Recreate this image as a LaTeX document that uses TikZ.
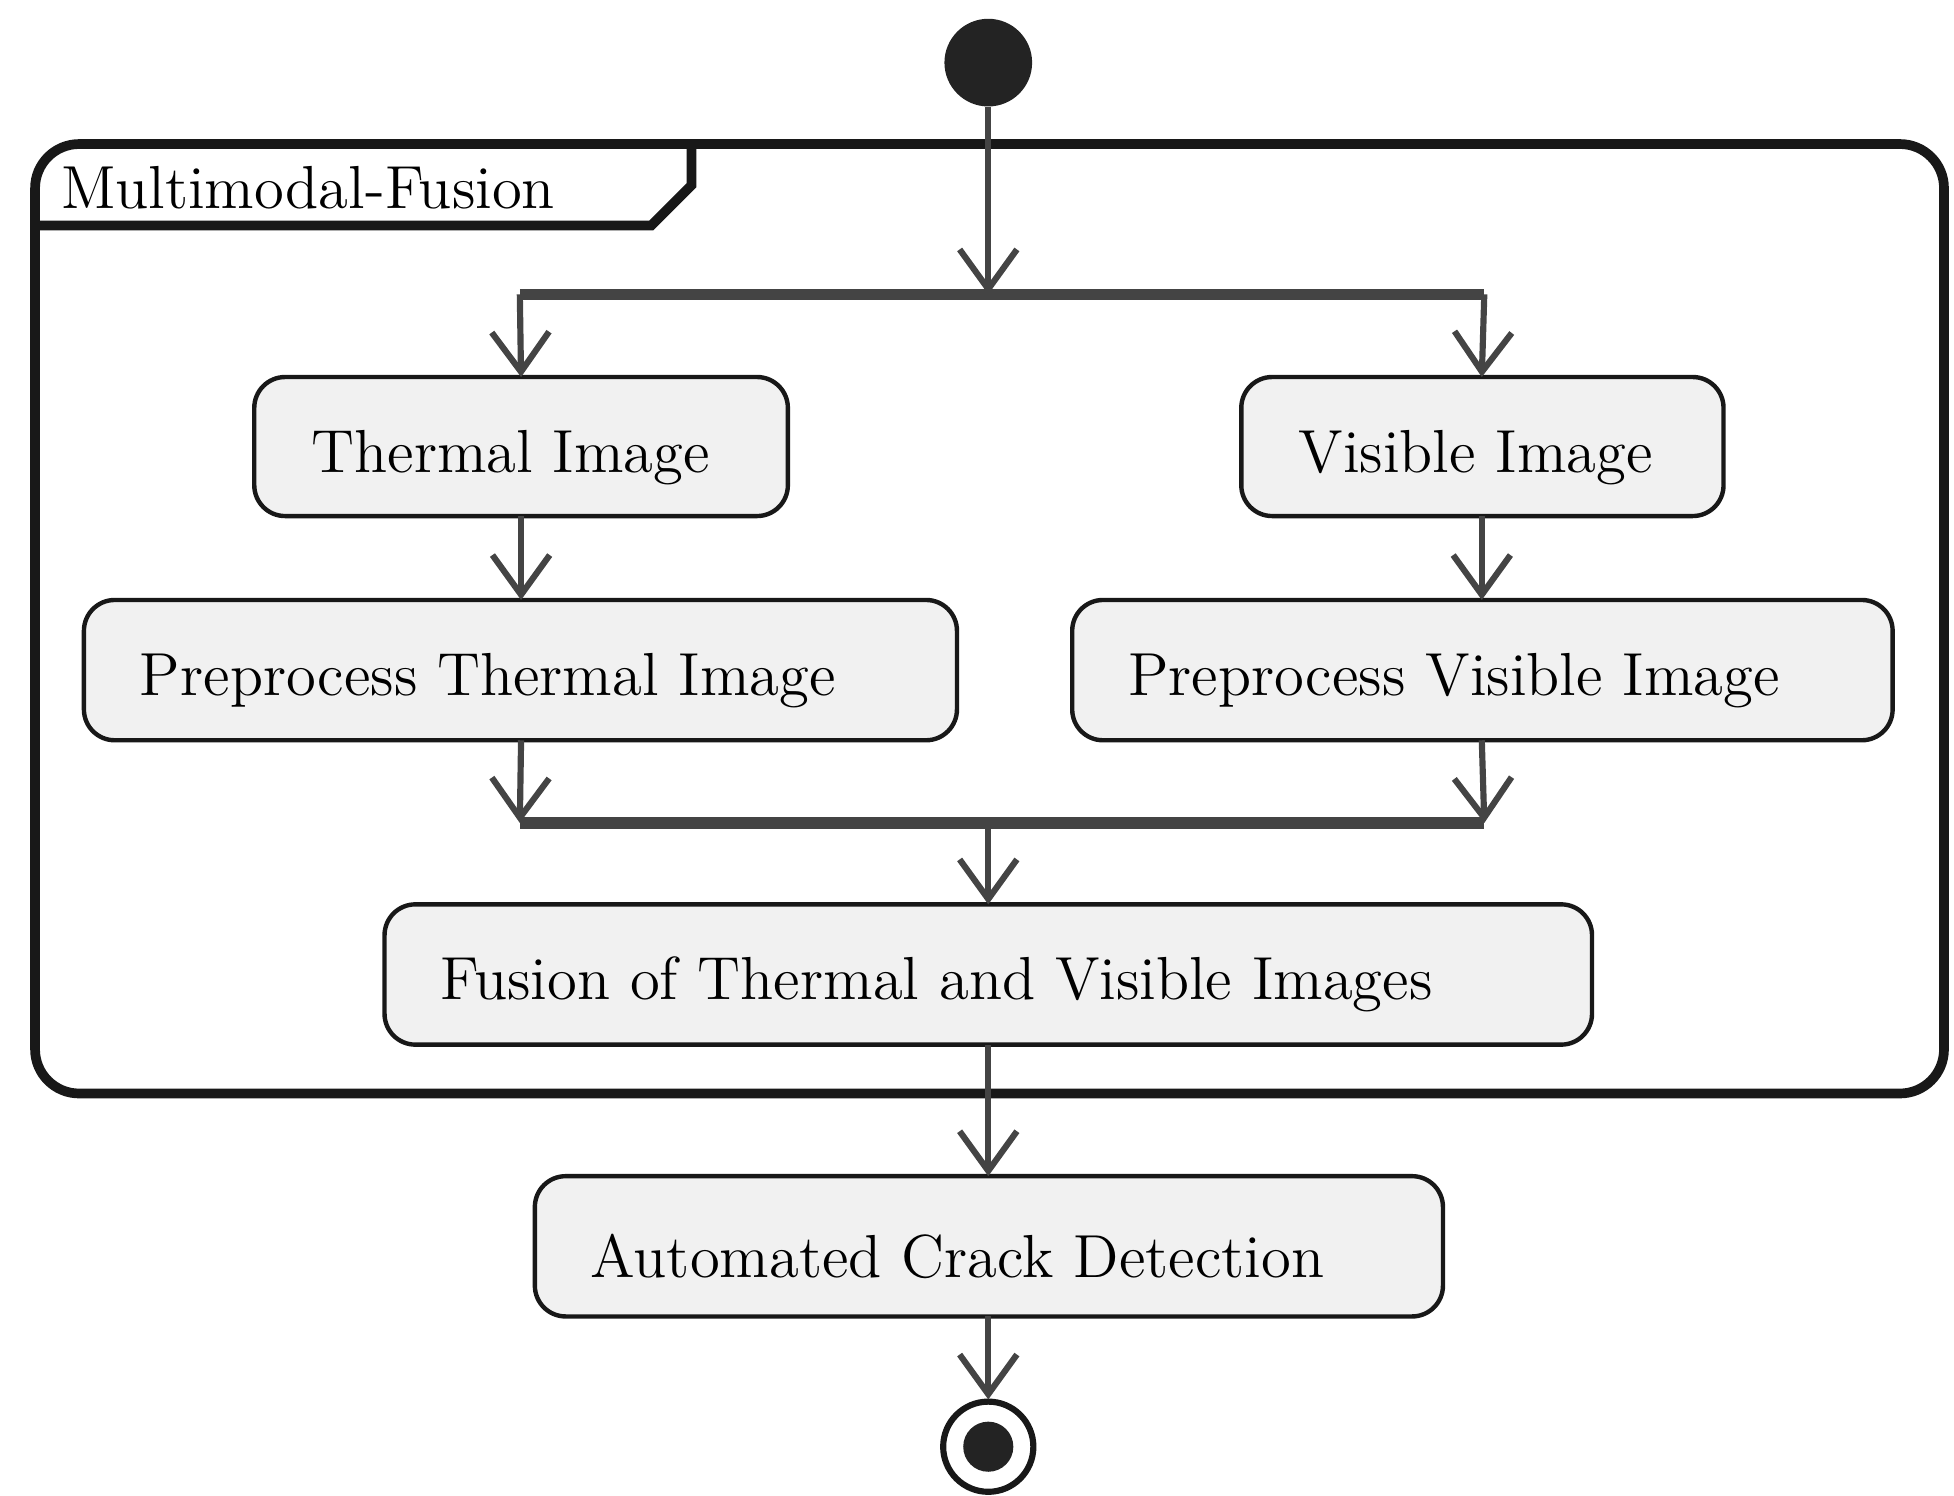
\documentclass[tikz,border=0pt]{standalone}
\usepackage{tikz}
\usetikzlibrary{arrows.meta,positioning}
\definecolor{flowline}{HTML}{444444}
\definecolor{actfill}{HTML}{F1F1F1}
\definecolor{actdraw}{HTML}{181818}
\tikzset{
    act/.style={draw=actdraw, fill=actfill, line width=1pt, rounded corners=7pt},
    actlabel/.style={anchor=west, font=\fontsize{13.8}{16}\selectfont, inner sep=0pt},
    flow/.style={draw=flowline, line width=1.4pt, -{Straight Barb[length=9pt,width=13pt,line width=1.4pt]}},
    bar/.style={draw=flowline, line width=2.6pt}
}
\begin{document}
\begin{tikzpicture}[x=0.01cm, y=-0.01cm]
\useasboundingbox (0,0) rectangle (1560,1194);

% start / stop
\fill[actdraw!95] (789,50) circle (35);
\node[circle, minimum size=0.7cm, inner sep=0pt] (startnode) at (789,50) {};
\draw[actdraw, line width=1.4pt] (789,1155) circle (36);
\fill[actdraw!95] (789,1155) circle (20);
\node[circle, minimum size=0.74cm, inner sep=0pt] (stopnode) at (789,1155) {};

% partition frame
\draw[actdraw, line width=2.2pt, rounded corners=10pt] (28,115) rectangle (1552,873);
\draw[actdraw, line width=2.2pt] (28,180) -- (520,180) -- (552,148) -- (552,115);
\node[actlabel] (frametitle) at (48,150) {Multimodal-Fusion};

% fork and join bars
\coordinate (forkL) at (415,235);
\coordinate (forkR) at (1185,235);
\coordinate (forkM) at (789,235);
\coordinate (joinL) at (415,657);
\coordinate (joinR) at (1185,657);
\coordinate (joinM) at (789,657);
\draw[bar] (forkL) -- (forkR);
\draw[bar] (joinL) -- (joinR);

% activities
\draw[act] (203,301) rectangle (629,412);
\node[actlabel] (thermal) at (248,365) {Thermal Image};
\draw[act] (991,301) rectangle (1376,412);
\node[actlabel] (visible) at (1036,365) {Visible Image};
\draw[act] (67,479) rectangle (764,591);
\node[actlabel] (prethermal) at (111,543) {Preprocess Thermal Image};
\draw[act] (856,479) rectangle (1511,591);
\node[actlabel] (previsible) at (900,543) {Preprocess Visible Image};
\draw[act] (307,722) rectangle (1271,834);
\node[actlabel] (fusion) at (351,786) {Fusion of Thermal and Visible Images};
\draw[act] (427,939) rectangle (1152,1051);
\node[actlabel] (crack) at (471,1003) {Automated Crack Detection};

% anchors on box edges
\coordinate (thermalT) at (416,301);  \coordinate (thermalB) at (416,412);
\coordinate (visibleT) at (1183,301); \coordinate (visibleB) at (1183,412);
\coordinate (prethermalT) at (416,479);  \coordinate (prethermalB) at (416,591);
\coordinate (previsibleT) at (1183,479); \coordinate (previsibleB) at (1183,591);
\coordinate (fusionT) at (789,722);  \coordinate (fusionB) at (789,834);
\coordinate (crackT) at (789,939);   \coordinate (crackB) at (789,1051);

% connectors
\draw[flow] (startnode.south) -- (forkM);
\draw[flow] (forkL) -- (thermalT);
\draw[flow] (forkR) -- (visibleT);
\draw[flow] (thermalB) -- (prethermalT);
\draw[flow] (visibleB) -- (previsibleT);
\draw[flow] (prethermalB) -- (joinL);
\draw[flow] (previsibleB) -- (joinR);
\draw[flow] (joinM) -- (fusionT);
\draw[flow] (fusionB) -- (crackT);
\draw[flow] (crackB) -- (stopnode.north);
\end{tikzpicture}
\end{document}
